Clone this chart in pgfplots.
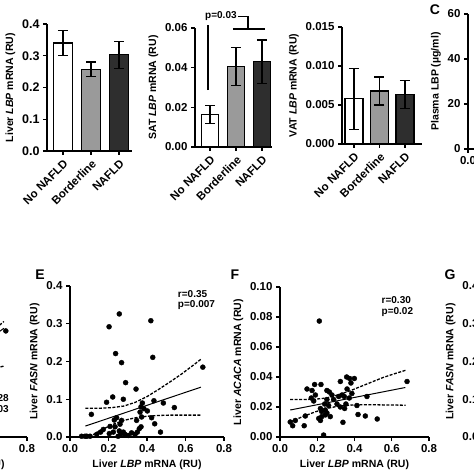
\documentclass[border=0pt]{standalone}
\usepackage{fontspec}
\setmainfont{Liberation Sans}
\usepackage{pgfplots}
\pgfplotsset{compat=1.18}
\definecolor{barlight}{HTML}{9A9A9A}
\definecolor{bardark}{HTML}{2E2E2E}
\pgfplotsset{
  prism/.style={
    scale only axis,
    axis x line*=bottom, axis y line*=left,
    axis line style={-, line width=1.2pt},
    tick align=outside,
    major tick length=4pt,
    every tick/.style={black, line width=1.2pt},
    tick label style={font=\bfseries\fontsize{11.5}{12}\selectfont},
    label style={font=\bfseries\fontsize{10.5}{12}\selectfont},
    /pgf/number format/assume math mode=true,
    scaled ticks=false,
    clip=false,
  },
  yp/.style={yticklabel style={/pgf/number format/fixed, /pgf/number format/fixed zerofill, /pgf/number format/precision=#1}},
  xp/.style={xticklabel style={/pgf/number format/fixed, /pgf/number format/fixed zerofill, /pgf/number format/precision=#1}},
  barp/.style={prism,
    xtick={0,1,2}, xticklabels={No NAFLD,Borderline,NAFLD},
    x tick label style={rotate=45, anchor=north east, inner sep=2.5pt},
    ymin=0,
  },
  bb/.style={ybar, bar shift=0pt, draw=black, line width=1.2pt,
    error bars/y dir=both, error bars/y explicit,
    error bars/error bar style={line width=1.2pt, black},
    error bars/error mark options={black, line width=1.2pt, mark size=5pt, rotate=90}},
  scat/.style={prism, xmin=0, xmax=0.8, ymin=0,
    xtick={0,0.2,0.4,0.6,0.8}, xp=1,
    xlabel={Liver \textit{LBP} mRNA (RU)},
    width=154pt, height=151pt},
  dots/.style={only marks, mark=*, mark size=2.5pt, black},
  fitl/.style={black, line width=1pt, no marks},
  cil/.style={black, line width=1.3pt, no marks, dash pattern=on 3pt off 1.5pt},
}
\begin{document}
\begin{tikzpicture}[x=1pt,y=1pt]
\useasboundingbox (0,0) rectangle (474,474);
\clip (0,0) rectangle (474,474);

% ---------- Liver LBP ----------
\begin{axis}[barp, at={(47pt,323pt)}, anchor=south west,
  width=85pt, height=127pt, xmin=-0.57, xmax=2.46, ymax=0.4,
  ytick={0,0.1,0.2,0.3,0.4}, yp=1,
  y tick label style={font=\bfseries\fontsize{12.5}{13}\selectfont},
  ylabel={Liver \textit{LBP} mRNA (RU)}]
\addplot[bb, bar width=18.5pt, fill=white] coordinates {(0,0.340) +- (0,0.040)};
\addplot[bb, bar width=18.5pt, fill=barlight] coordinates {(1,0.257) +- (0,0.023)};
\addplot[bb, bar width=18.5pt, fill=bardark] coordinates {(2,0.303) +- (0,0.042)};
\end{axis}

% ---------- SAT LBP ----------
\begin{axis}[barp, at={(195pt,327pt)}, anchor=south west,
  width=77pt, height=119pt, xmin=-0.577, xmax=2.385, ymax=0.06,
  ytick={0,0.02,0.04,0.06}, yp=2,
  ylabel={SAT \textit{LBP} mRNA (RU)}]
\addplot[bb, bar width=17pt, fill=white] coordinates {(0,0.0165) +- (0,0.0045)};
\addplot[bb, bar width=17pt, fill=barlight] coordinates {(1,0.0405) +- (0,0.0095)};
\addplot[bb, bar width=17pt, fill=bardark] coordinates {(2,0.0430) +- (0,0.0110)};
\draw[line width=1.2pt] (axis cs:-0.08,0.0287) -- (axis cs:-0.08,0.0615);
\node[font=\bfseries\fontsize{10}{10}\selectfont, inner sep=0pt] at (axis cs:0.42,0.066) {p=0.03};
\draw[line width=1.2pt] (axis cs:1.07,0.066) -- (axis cs:1.46,0.066) -- (axis cs:1.46,0.0595);
\draw[line width=1.2pt] (axis cs:0.88,0.0595) -- (axis cs:2.12,0.0595);
\end{axis}

% ---------- VAT LBP ----------
\begin{axis}[barp, at={(342pt,330pt)}, anchor=south west,
  width=80pt, height=117pt, xmin=-0.47, xmax=2.67, ymax=0.015,
  ytick={0,0.005,0.01,0.015}, yp=3,
  ylabel={VAT \textit{LBP} mRNA (RU)}]
\addplot[bb, bar width=18pt, fill=white] coordinates {(0,0.0058) +- (0,0.0039)};
\addplot[bb, bar width=18pt, fill=barlight] coordinates {(1,0.0068) +- (0,0.0018)};
\addplot[bb, bar width=18pt, fill=bardark] coordinates {(2,0.0063) +- (0,0.0018)};
\end{axis}

% ---------- C ----------
\node[font=\bfseries\fontsize{14}{14}\selectfont, anchor=center] at (435,464) {C};
\begin{axis}[prism, at={(468pt,325pt)}, anchor=south west,
  width=120pt, height=135pt, xmin=0, xmax=1, ymin=0, ymax=60,
  ytick={0,20,40,60}, xtick={0,0.5,1}, xp=1,
  ylabel={Plasma LBP (µg/ml)}]
\addplot[draw=none] coordinates {(0,0)};
\end{axis}

% ---------- D (cut) ----------
\begin{axis}[scat, at={(-127pt,37pt)}, anchor=south west, ymax=0.4,
  ytick={0,0.1,0.2,0.3,0.4}]
\addplot[fitl] coordinates {(0.55,0.24) (0.68,0.288)};
\addplot[cil] coordinates {(0.55,0.25) (0.62,0.28) (0.68,0.306)};
\addplot[cil] coordinates {(0.55,0.17) (0.62,0.18) (0.68,0.188)};
\addplot[dots] coordinates {(0.69,0.281)};
\node[anchor=north east, align=right, font=\bfseries\fontsize{10}{10.5}\selectfont, inner sep=0pt] at (axis cs:0.706,0.112) {r=0.28\\p=0.03};
\end{axis}

% ---------- E ----------
\node[font=\bfseries\fontsize{14}{14}\selectfont] at (40,199) {E};
\begin{axis}[scat, at={(70pt,37pt)}, anchor=south west, ymax=0.4,
  ytick={0,0.1,0.2,0.3,0.4}, yp=1,
  ylabel={Liver \textit{FASN} mRNA (RU)}]
\addplot[dots] table {
0.256 0.326
0.203 0.292
0.420 0.308
0.237 0.221
0.268 0.197
0.430 0.211
0.690 0.185
0.289 0.144
0.343 0.127
0.222 0.106
0.190 0.092
0.277 0.100
0.111 0.060
0.436 0.096
0.485 0.090
0.542 0.078
0.376 0.090
0.369 0.080
0.384 0.075
0.364 0.066
0.402 0.069
0.372 0.053
0.346 0.044
0.440 0.035
0.424 0.051
0.242 0.051
0.268 0.044
0.260 0.034
0.234 0.027
0.208 0.028
0.173 0.020
0.159 0.013
0.204 0.009
0.225 0.013
0.256 0.016
0.277 0.013
0.286 0.007
0.263 0.007
0.303 0.004
0.320 0.011
0.360 0.022
0.369 0.027
0.350 0.013
0.338 0.007
0.139 0.007
0.087 0.002
0.104 0.002
0.078 0.002
0.060 0.002
0.470 0.013
0.230 0.045
0.250 0.002
};
\addplot[fitl] coordinates {(0.08,0.029) (0.68,0.132)};
\addplot[cil] coordinates {(0.08,0.076) (0.15,0.076) (0.22,0.078) (0.28,0.082) (0.34,0.092) (0.40,0.107) (0.46,0.126) (0.52,0.146) (0.58,0.167) (0.64,0.190) (0.68,0.206)};
\addplot[cil] coordinates {(0.10,0.000) (0.16,0.018) (0.22,0.033) (0.28,0.044) (0.34,0.051) (0.40,0.055) (0.46,0.057) (0.52,0.058) (0.58,0.058) (0.68,0.058)};
\node[anchor=north west, align=left, font=\bfseries\fontsize{10}{10.5}\selectfont, inner sep=0pt] at (axis cs:0.56,0.389) {r=0.35\\p=0.007};
\end{axis}

% ---------- F ----------
\node[font=\bfseries\fontsize{14}{14}\selectfont] at (235,199) {F};
\begin{axis}[scat, at={(280pt,37pt)}, anchor=south west, width=149pt, height=150pt,
  ymax=0.1, ytick={0,0.02,0.04,0.06,0.08,0.1}, yp=2,
  ylabel={Liver \textit{ACACA} mRNA (RU)}]
\addplot[dots] table {
0.211 0.0773
0.186 0.035
0.220 0.035
0.145 0.032
0.172 0.031
0.190 0.028
0.168 0.026
0.181 0.024
0.252 0.031
0.265 0.030
0.279 0.028
0.324 0.037
0.358 0.040
0.374 0.039
0.399 0.039
0.381 0.036
0.333 0.028
0.345 0.027
0.360 0.032
0.386 0.029
0.467 0.027
0.682 0.037
0.413 0.021
0.419 0.015
0.458 0.014
0.522 0.012
0.338 0.0098
0.234 0.0013
0.055 0.010
0.068 0.0075
0.082 0.011
0.130 0.0075
0.136 0.014
0.208 0.0124
0.217 0.011
0.224 0.0136
0.243 0.0147
0.252 0.016
0.270 0.0136
0.224 0.017
0.240 0.022
0.252 0.025
0.261 0.021
0.288 0.025
0.306 0.022
0.324 0.020
0.347 0.019
0.354 0.022
0.372 0.026
0.315 0.027
0.243 0.018
0.217 0.019
};
\addplot[fitl] coordinates {(0.055,0.018) (0.673,0.033)};
\addplot[cil] coordinates {(0.055,0.025) (0.12,0.025) (0.19,0.0252) (0.25,0.026) (0.31,0.028) (0.37,0.0305) (0.43,0.0335) (0.49,0.0365) (0.55,0.0395) (0.61,0.042) (0.675,0.0445)};
\addplot[cil] coordinates {(0.055,0.010) (0.12,0.0135) (0.19,0.0168) (0.25,0.019) (0.31,0.0205) (0.37,0.0212) (0.43,0.0215) (0.49,0.0215) (0.55,0.0214) (0.61,0.0213) (0.675,0.0212)};
\node[anchor=north west, align=left, font=\bfseries\fontsize{10}{10.5}\selectfont, inner sep=0pt] at (axis cs:0.545,0.0935) {r=0.30\\p=0.02};
\end{axis}

% ---------- G (cut) ----------
\node[font=\bfseries\fontsize{14}{14}\selectfont] at (450,199) {G};
\begin{axis}[scat, at={(486pt,37pt)}, anchor=south west, ymax=0.4,
  ytick={0,0.1,0.2,0.3,0.4}, yp=1,
  ylabel={Liver \textit{FASN} mRNA (RU)}]
\addplot[draw=none] coordinates {(0,0)};
\end{axis}
\end{tikzpicture}
\end{document}
